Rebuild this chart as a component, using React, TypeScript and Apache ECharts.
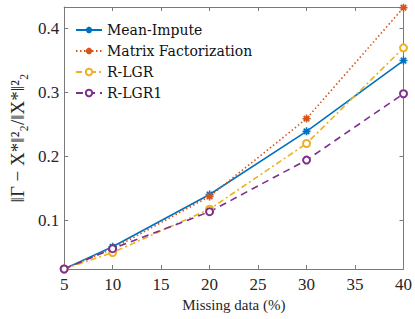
import React, { useEffect, useRef } from "react";
import * as echarts from "echarts";

const missingPct = [5, 10, 20, 30, 40];
const meanImpute = [0.0234, 0.058, 0.14, 0.239, 0.35];
const matrixFactorization = [0.0234, 0.055, 0.137, 0.259, 0.433];
const rLGR = [0.0232, 0.049, 0.117, 0.22, 0.37];
const rLGR1 = [0.0232, 0.055, 0.113, 0.194, 0.298];
const yTicks = [0.1, 0.2, 0.3, 0.4];
const legendNames = ["Mean-Impute", "Matrix Factorization", "R-LGR", "R-LGR1"];

const ASTERISK = "path://M0 5 L10 5 M5 0 L5 10 M1.5 1.5 L8.5 8.5 M8.5 1.5 L1.5 8.5";
const SERIF = "Liberation Serif, serif";
const LEGEND_FONT = "DejaVu Serif";
const AXIS_COLOR = "#7a7a7a";

function pts(ys: number[]) {
  return missingPct.map((x, i) => [x, ys[i]]);
}

export default function App() {
  const ref = useRef<HTMLDivElement>(null);
  useEffect(() => {
    if (!ref.current) return;
    const chart = echarts.init(ref.current, undefined, { renderer: "svg" });
    const axisCommon = {
      axisLine: { show: true, lineStyle: { color: AXIS_COLOR, width: 1 } },
      axisTick: { show: true, inside: true, length: 4, lineStyle: { color: AXIS_COLOR } },
      splitLine: { show: false },
    };
    const mk = (name: string, data: number[], color: string, lineType: any, symbol: string, star: boolean) => ({
      name,
      type: "line",
      data: pts(data),
      symbol,
      symbolSize: star ? 8 : 7,
      showSymbol: true,
      showAllSymbol: true,
      lineStyle: { color, width: 1.6, type: lineType },
      itemStyle: { color, borderColor: color, borderWidth: 1.6 },
      emphasis: { disabled: true },
    });
    chart.setOption({
      animation: false,
      textStyle: { fontFamily: SERIF },
      grid: { left: 59, right: 11, top: 7, bottom: 50, containLabel: false },
      legend: {
        left: 70,
        top: 18,
        orient: "vertical",
        itemWidth: 26,
        itemHeight: 8,
        itemGap: 7,
        textStyle: { fontFamily: LEGEND_FONT, fontSize: 14, color: "#111" },
        data: legendNames,
      },
      xAxis: [
        {
          type: "value",
          min: 5,
          max: 40,
          interval: 5,
          ...axisCommon,
          axisLabel: { margin: 7, fontFamily: SERIF, fontSize: 17, color: "#262626" },
          name: "Missing data (%)",
          nameLocation: "middle",
          nameGap: 28,
          nameTextStyle: { fontFamily: SERIF, fontSize: 15, color: "#262626" },
        },
        {
          type: "value",
          position: "top",
          min: 5,
          max: 40,
          interval: 5,
          ...axisCommon,
          axisLabel: { show: false },
        },
      ],
      yAxis: [
        {
          type: "value",
          min: 0.0232,
          max: 0.434,
          ...axisCommon,
          axisTick: { ...axisCommon.axisTick, customValues: yTicks },
          axisLabel: {
            margin: 5,
            fontFamily: SERIF,
            fontSize: 17,
            color: "#262626",
            customValues: yTicks,
            formatter: (v: number) => String(Math.round(v * 10) / 10),
          },
          name: "‖Γ − X*‖²₂/‖X*‖²₂",
          nameLocation: "middle",
          nameGap: 37,
          nameRotate: 90,
          nameTextStyle: { fontFamily: SERIF, fontSize: 19, color: "#262626" },
        },
        {
          type: "value",
          position: "right",
          min: 0.0232,
          max: 0.434,
          ...axisCommon,
          axisTick: { ...axisCommon.axisTick, customValues: yTicks },
          axisLabel: { show: false },
        },
      ],
      series: [
        mk(legendNames[0], meanImpute, "#0072BD", "solid", ASTERISK, true),
        mk(legendNames[1], matrixFactorization, "#D95319", [1.5, 2.5], ASTERISK, true),
        mk(legendNames[2], rLGR, "#EDB120", [6, 3, 2, 3], "emptyCircle", false),
        mk(legendNames[3], rLGR1, "#7E2F8E", [7, 5], "emptyCircle", false),
      ],
    });
    return () => chart.dispose();
  }, []);
  return <div ref={ref} style={{ width: 415, height: 319, position: "absolute", left: 0, top: 0 }} />;
}
